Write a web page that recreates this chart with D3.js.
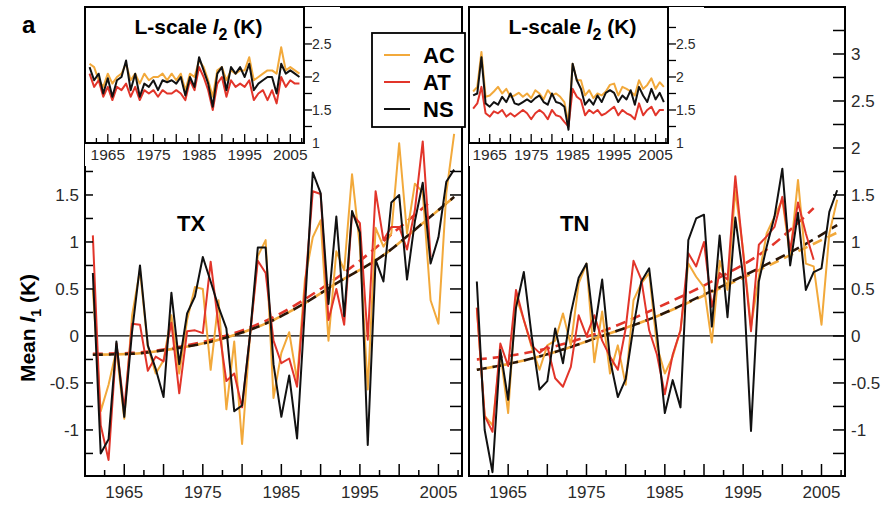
<!DOCTYPE html>
<html>
<head>
<meta charset="utf-8">
<script src="https://cdn.jsdelivr.net/npm/d3@7"></script>
<style>
  body { margin: 0; background: #fff; }
  text { font-family: "Liberation Sans", Arial, Helvetica, sans-serif; }
</style>
</head>
<body>
<svg id="chart" width="882" height="505"></svg>
<script>
// ---- data -------------------------------------------------------------
const years = d3.range(1961, 2008);

// Mean l1 anomaly (K), daily maximum temperature
const txAC = [0.5,-0.8,-0.52,-0.15,-0.88,0.22,0.7,-0.11,-0.4,-0.26,0.22,-0.4,0.17,0.52,0.5,-0.36,0.38,-0.78,-0.06,-1.15,0.0,0.85,1.02,-0.66,-0.18,0.04,-0.47,0.6,1.05,1.23,-0.05,0.9,0.7,1.72,0.95,-0.57,1.15,0.95,1.09,2.05,1.09,1.62,1.53,0.38,0.13,1.52,2.15];
const txAT = [1.07,-0.95,-1.32,-0.08,-0.78,0.13,0.12,-0.37,-0.22,-0.27,0.14,-0.61,0.05,0.06,0.03,0.79,0.11,-0.48,-0.4,-0.76,0.0,0.8,0.67,-0.05,-0.29,-0.24,-0.54,0.5,1.54,1.51,0.17,0.5,0.12,1.3,1.2,-0.04,1.54,1.02,1.16,1.16,0.92,1.34,2.07,0.84];
const txNS = [0.67,-1.25,-1.1,-0.06,-0.86,0.05,0.75,-0.1,-0.35,-0.65,0.46,-0.3,0.24,0.42,0.84,0.58,0.31,0.08,-0.8,-0.74,0.0,0.94,0.94,-0.3,-0.86,-0.42,-1.09,0.3,1.74,1.52,0.34,1.27,0.21,1.33,1.1,-1.16,0.81,0.58,1.42,1.5,0.6,1.22,1.63,0.77,1.05,1.64,1.77];

// Mean l1 anomaly (K), daily minimum temperature
const tnAC = [0.3,-0.85,-0.95,-0.18,-0.82,0.42,0.17,-0.12,-0.36,-0.1,-0.05,0.24,-0.1,0.56,0.77,-0.28,0.26,-0.4,-0.1,-0.52,0.38,0.56,0.67,-0.11,-0.4,-0.22,0.06,0.77,0.63,0.52,-0.07,0.8,0.49,1.55,0.91,0.1,0.63,1.09,1.27,1.45,0.84,1.66,0.77,0.74,0.12,1.09,1.45];
const tnAT = [0.3,-0.85,-1.02,-0.08,-0.32,0.49,0.17,-0.1,-0.18,-0.11,-0.45,-0.54,-0.33,0.22,0.0,0.22,-0.05,-0.22,-0.36,0.08,0.8,0.6,0.06,-0.2,-0.62,-0.2,0.06,0.88,0.74,1.0,0.31,0.67,0.6,1.7,0.88,0.05,0.97,1.06,1.16,1.48,0.91,1.42,1.09,0.81];
const tnNS = [0.58,-1.0,-1.45,-0.15,-0.68,0.3,0.68,0.0,-0.57,-0.48,0.08,-0.29,0.24,0.62,0.77,0.05,0.6,-0.25,-0.65,-0.46,0.1,0.58,0.72,0.02,-0.82,-0.47,-0.76,1.02,1.25,1.29,0.1,1.07,0.2,1.26,0.63,-1.01,0.58,0.95,1.27,1.78,0.75,1.31,0.49,0.68,0.72,1.32,1.55];

// Trend curves (K), sampled at a few years
const txTrendYears = [1961, 1966, 1971, 1977, 1984, 1988, 1992, 1998, 2003, 2007];
const txTrendNS    = [-0.2, -0.19, -0.14, -0.04, 0.17, 0.35, 0.56, 0.86, 1.2, 1.48];
const txTrendAC    = [-0.2, -0.19, -0.14, -0.04, 0.17, 0.35, 0.56, 0.86, 1.2, 1.48];
const txTrendATYears = [1961, 1966, 1971, 1977, 1984, 1990, 1995, 2000, 2004];
const txTrendAT      = [-0.19, -0.18, -0.13, -0.02, 0.2, 0.5, 0.8, 1.15, 1.43];

const tnTrendYears = [1961, 1966, 1971, 1977, 1984, 1990, 1997, 2003, 2007];
const tnTrendNS    = [-0.36, -0.28, -0.17, 0.0, 0.21, 0.44, 0.72, 0.98, 1.18];
const tnTrendAC    = [-0.36, -0.28, -0.17, 0.0, 0.21, 0.43, 0.7, 0.94, 1.1];
const tnTrendATYears = [1961, 1966, 1971, 1977, 1984, 1991, 1998, 2004];
const tnTrendAT      = [-0.25, -0.2, -0.11, 0.05, 0.3, 0.58, 0.92, 1.36];

// L-scale l2 (K)
const txL2AC = [2.2,2.15,1.95,1.85,2.05,1.9,2.0,2.05,2.2,1.95,2.05,1.9,2.05,1.95,2.0,2.0,2.05,1.95,2.05,1.95,2.05,1.8,2.05,2.0,2.25,2.15,1.95,1.7,2.1,2.15,1.95,2.1,2.05,2.1,2.1,2.3,1.95,2.0,2.05,2.1,2.1,2.05,2.45,2.1,2.15,2.1,2.05];
const txL2AT = [2.05,1.85,1.95,1.7,1.85,1.65,1.85,1.8,1.9,1.7,1.85,1.65,1.8,1.75,1.8,1.7,1.8,1.75,1.75,1.8,1.75,1.65,1.95,1.8,2.15,2.0,1.8,1.5,1.9,2.0,1.7,1.95,1.85,1.9,1.85,1.95,1.65,1.75,1.8,1.65,1.8,1.6,2.0,1.85,1.95,1.9,1.9];
const txL2NS = [2.15,1.95,2.05,1.75,1.98,1.7,1.95,2.0,2.25,1.8,2.05,1.7,1.9,1.85,1.95,1.8,1.95,1.92,1.95,1.9,2.0,1.72,2.0,1.85,2.3,2.1,1.9,1.55,2.05,2.15,1.8,2.15,2.05,2.15,2.0,2.2,1.8,1.9,1.95,2.0,2.0,1.75,2.2,2.05,2.1,2.05,2.0];

const tnL2AC = [1.78,1.85,2.38,1.7,1.72,1.78,1.85,1.75,1.82,1.7,1.72,1.76,1.7,1.75,1.68,1.8,1.75,1.66,1.8,1.72,1.75,1.7,1.62,1.3,2.2,1.95,1.95,1.72,1.8,1.68,1.75,1.72,1.78,1.88,1.9,1.72,1.85,1.82,1.78,1.72,1.95,1.82,1.88,1.98,1.82,1.92,1.85];
const tnL2AT = [1.52,1.6,1.85,1.45,1.4,1.48,1.45,1.5,1.4,1.45,1.4,1.45,1.5,1.45,1.36,1.45,1.5,1.45,1.36,1.5,1.42,1.4,1.32,1.25,1.82,1.7,1.65,1.42,1.5,1.45,1.5,1.42,1.45,1.5,1.55,1.42,1.5,1.45,1.42,1.36,1.6,1.42,1.5,1.55,1.42,1.5,1.5];
const tnL2NS = [1.72,1.75,2.3,1.6,1.55,1.62,1.58,1.7,1.62,1.75,1.6,1.58,1.62,1.66,1.62,1.68,1.72,1.62,1.58,1.75,1.62,1.6,1.55,1.2,2.2,1.95,1.82,1.58,1.66,1.58,1.72,1.62,1.76,1.8,1.76,1.62,1.72,1.66,1.8,1.58,1.85,1.72,1.62,1.82,1.66,1.76,1.62];

const seriesNames  = ["AC", "AT", "NS"];
const seriesColors = { AC: "#f2a93b", AT: "#e2352a", NS: "#111111" };

const yTickLabels   = [-1, -0.5, 0, 0.5, 1, 1.5];
const yTickLabelsR  = [-1, -0.5, 0, 0.5, 1, 1.5, 2, 2.5, 3];
const xTickLabels   = [1965, 1975, 1985, 1995, 2005];
const l2TickLabels  = [1, 1.5, 2, 2.5];

// ---- drawing ---------------------------------------------------------
const svg = d3.select("#chart");
const fmt = d => (d === 0 ? "0" : String(d));

const topY = 7, bottomY = 476;
const panels = [
  { key: "TX", x0: 85,  x1: 462, inset: { x0: 85,  x1: 304 },
    AC: txAC, AT: txAT, NS: txNS,
    trends: { AC: [txTrendYears, txTrendAC], NS: [txTrendYears, txTrendNS], AT: [txTrendATYears, txTrendAT] },
    l2: { AC: txL2AC, AT: txL2AT, NS: txL2NS } },
  { key: "TN", x0: 469, x1: 845, inset: { x0: 469, x1: 668 },
    AC: tnAC, AT: tnAT, NS: tnNS,
    trends: { AC: [tnTrendYears, tnTrendAC], NS: [tnTrendYears, tnTrendNS], AT: [tnTrendATYears, tnTrendAT] },
    l2: { AC: tnL2AC, AT: tnL2AT, NS: tnL2NS } }
];

const y = d3.scaleLinear().domain([-1.49, 3.5]).range([bottomY, topY]);

panels.forEach((p, pi) => {
  const x = d3.scaleLinear().domain([1960, 2008]).range([p.x0, p.x1]);
  const g = svg.append("g");
  const clipId = "clip" + pi;
  svg.append("clipPath").attr("id", clipId)
    .append("rect").attr("x", p.x0).attr("y", topY).attr("width", p.x1 - p.x0).attr("height", bottomY - topY);

  // zero line
  g.append("line").attr("x1", p.x0).attr("x2", p.x1)
    .attr("y1", y(0)).attr("y2", y(0)).attr("stroke", "#000").attr("stroke-width", 1.2);

  const plot = g.append("g").attr("clip-path", `url(#${clipId})`);
  const line = d3.line().x((d, i) => x(years[i])).y(d => y(d));

  // trend curves
  const trend = d3.line().x(d => x(d[0])).y(d => y(d[1])).curve(d3.curveMonotoneX);
  const trendStyle = {
    AT: { dash: "10,6", off: 0 },
    AC: { dash: "10,6", off: 8 },
    NS: { dash: "10,6", off: 0 }
  };
  ["AT", "AC", "NS"].forEach(k => {
    const [ty, tv] = p.trends[k];
    plot.append("path").datum(ty.map((t, i) => [t, tv[i]]))
      .attr("d", trend).attr("fill", "none")
      .attr("stroke", k === "NS" ? "#2a1608" : seriesColors[k])
      .attr("stroke-width", 2.6)
      .attr("stroke-dasharray", trendStyle[k].dash)
      .attr("stroke-dashoffset", trendStyle[k].off);
  });

  // annual series
  ["AC", "AT", "NS"].forEach(k => {
    plot.append("path").datum(p[k]).attr("d", line).attr("fill", "none")
      .attr("stroke", seriesColors[k]).attr("stroke-width", 2)
      .attr("stroke-linejoin", "round");
  });

  // bottom axis (ticks point inward)
  const xTicks = d3.range(1962.5, 2008, 2.5);
  g.selectAll(null).data(xTicks).join("line")
    .attr("x1", d => x(d)).attr("x2", d => x(d))
    .attr("y1", bottomY).attr("y2", d => bottomY - (d % 5 === 0 ? 12 : 6))
    .attr("stroke", "#000").attr("stroke-width", 1.5);
  g.selectAll(null).data(xTickLabels).join("text")
    .attr("x", d => x(d)).attr("y", bottomY + 22)
    .attr("text-anchor", "middle").attr("font-size", 17).attr("fill", "#2a2a2a")
    .text(d => d);

  // y ticks on both sides
  const yTicks = d3.range(-1.25, 3.5, 0.25);
  if (pi === 0) {
    g.selectAll(null).data(yTicks.filter(v => v <= 1.75)).join("line")
      .attr("x1", p.x0).attr("x2", p.x0 + 8).attr("y1", d => y(d)).attr("y2", d => y(d))
      .attr("stroke", "#000").attr("stroke-width", 1.5);
    g.selectAll(null).data(yTicks.filter(v => v <= 1.75)).join("line")
      .attr("x1", p.x1).attr("x2", p.x1 - 12).attr("y1", d => y(d)).attr("y2", d => y(d))
      .attr("stroke", "#000").attr("stroke-width", 1.5);
    g.selectAll(null).data(yTickLabels).join("text")
      .attr("x", p.x0 - 6).attr("y", d => y(d) + 6)
      .attr("text-anchor", "end").attr("font-size", 17).attr("fill", "#2a2a2a")
      .text(fmt);
  } else {
    g.selectAll(null).data(yTicks).join("line")
      .attr("x1", p.x1).attr("x2", p.x1 - 12).attr("y1", d => y(d)).attr("y2", d => y(d))
      .attr("stroke", "#000").attr("stroke-width", 1.5);
    g.selectAll(null).data(yTickLabelsR).join("text")
      .attr("x", p.x1 + 6).attr("y", d => y(d) + 6)
      .attr("text-anchor", "start").attr("font-size", 17).attr("fill", "#2a2a2a")
      .text(fmt);
  }

  // panel frame
  g.append("rect").attr("x", p.x0).attr("y", topY)
    .attr("width", p.x1 - p.x0).attr("height", bottomY - topY)
    .attr("fill", "none").attr("stroke", "#000").attr("stroke-width", 2);

  // panel name
  g.append("text").attr("x", x(1973.5)).attr("y", 231)
    .attr("text-anchor", "middle").attr("font-size", 22).attr("font-weight", "bold")
    .text(p.key);

  // ---- inset: L-scale l2 ----
  const ix = d3.scaleLinear().domain([1960, 2008]).range([p.inset.x0, p.inset.x1]);
  const iy = d3.scaleLinear().domain([1, 3.06]).range([143, topY]);
  const ig = svg.append("g");
  ig.append("rect").attr("x", p.inset.x0).attr("y", topY)
    .attr("width", p.inset.x1 - p.inset.x0 + 36).attr("height", 166 - topY)
    .attr("fill", "#fff");
  const iline = d3.line().x((d, i) => ix(years[i])).y(d => iy(d));
  ["AC", "AT", "NS"].forEach(k => {
    ig.append("path").datum(p.l2[k]).attr("d", iline).attr("fill", "none")
      .attr("stroke", seriesColors[k]).attr("stroke-width", 2)
      .attr("stroke-linejoin", "round");
  });
  ig.selectAll(null).data(xTicks).join("line")
    .attr("x1", d => ix(d)).attr("x2", d => ix(d))
    .attr("y1", 143).attr("y2", d => 143 - (d % 5 === 0 ? 9 : 5))
    .attr("stroke", "#000").attr("stroke-width", 1.3);
  ig.selectAll(null).data(xTickLabels).join("text")
    .attr("x", d => ix(d)).attr("y", 160)
    .attr("text-anchor", "middle").attr("font-size", 15.5).attr("fill", "#2a2a2a")
    .text(d => d);
  ig.selectAll(null).data(d3.range(1.25, 3, 0.25)).join("line")
    .attr("x1", p.inset.x1).attr("x2", p.inset.x1 + 8)
    .attr("y1", d => iy(d)).attr("y2", d => iy(d))
    .attr("stroke", "#000").attr("stroke-width", 1.3);
  ig.selectAll(null).data(l2TickLabels).join("text")
    .attr("x", p.inset.x1 + 8).attr("y", d => iy(d) + 5)
    .attr("font-size", 14).attr("fill", "#2a2a2a")
    .text(fmt);
  ig.append("rect").attr("x", p.inset.x0).attr("y", topY)
    .attr("width", p.inset.x1 - p.inset.x0).attr("height", 143 - topY)
    .attr("fill", "none").attr("stroke", "#000").attr("stroke-width", 2);
  const title = ig.append("text").attr("x", (p.inset.x0 + p.inset.x1) / 2 + 4).attr("y", 34)
    .attr("text-anchor", "middle").attr("font-size", 21).attr("font-weight", "bold");
  title.append("tspan").text("L-scale ");
  title.append("tspan").attr("font-style", "italic").text("l");
  title.append("tspan").attr("font-size", 16).attr("dy", 6).text("2");
  title.append("tspan").attr("dy", -6).text(pi === 0 ? " (K)" : "  (K)");
});

// legend
const lg = svg.append("g");
lg.append("rect").attr("x", 372).attr("y", 33).attr("width", 93).attr("height", 94)
  .attr("fill", "#fff").attr("stroke", "#000").attr("stroke-width", 1.8);
seriesNames.forEach((k, i) => {
  const yy = 55 + i * 27;
  lg.append("line").attr("x1", 384).attr("x2", 410).attr("y1", yy).attr("y2", yy)
    .attr("stroke", seriesColors[k]).attr("stroke-width", 2);
  lg.append("text").attr("x", 423).attr("y", yy + 8)
    .attr("font-size", 22).attr("font-weight", "bold").text(k);
});

// figure label and axis title
svg.append("text").attr("x", 22).attr("y", 33).attr("font-size", 24).attr("font-weight", "bold").text("a");
const yt = svg.append("text").attr("transform", "translate(35,328) rotate(-90)")
  .attr("text-anchor", "middle").attr("font-size", 21).attr("font-weight", "bold");
yt.append("tspan").text("Mean ");
yt.append("tspan").attr("font-style", "italic").text("l");
yt.append("tspan").attr("font-size", 14).attr("dy", 6).text("1");
yt.append("tspan").attr("dy", -6).text("  (K)");
</script>
</body>
</html>
